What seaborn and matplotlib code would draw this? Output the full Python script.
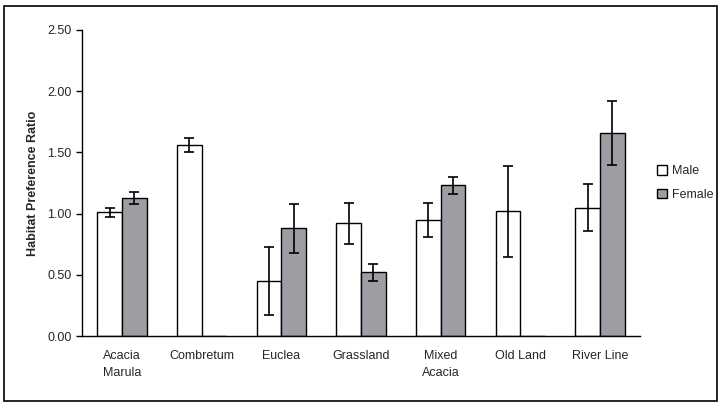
import numpy as np
import pandas as pd
import matplotlib
matplotlib.use('Agg')
import matplotlib.pyplot as plt
import seaborn as sns
from matplotlib.patches import Rectangle

habitats = ['Acacia\nMarula', 'Combretum', 'Euclea', 'Grassland',
            'Mixed\nAcacia', 'Old Land', 'River Line']
male = [1.01, 1.56, 0.45, 0.92, 0.95, 1.02, 1.05]
male_err = [0.04, 0.06, 0.28, 0.17, 0.14, 0.37, 0.19]
female = [1.13, 0.0, 0.88, 0.52, 1.23, 0.0, 1.66]
female_err = [0.05, 0.0, 0.20, 0.07, 0.07, 0.0, 0.26]
y_ticks = [0.0, 0.5, 1.0, 1.5, 2.0, 2.5]

df = pd.DataFrame({
    'habitat': habitats * 2,
    'ratio': male + female,
    'err': male_err + female_err,
    'sex': ['Male'] * len(habitats) + ['Female'] * len(habitats),
})

sns.set_style('white')
plt.rcParams['font.family'] = ['Liberation Sans', 'DejaVu Sans']

fig = plt.figure(figsize=(7.22, 4.04), dpi=100)
ax = fig.add_axes([0.1136, 0.168, 0.7725, 0.758])

sns.barplot(data=df, x='habitat', y='ratio', hue='sex', order=habitats,
            hue_order=['Male', 'Female'], palette=['white', '#9c9ca4'],
            edgecolor='black', linewidth=1.0, width=0.62, errorbar=None,
            ax=ax)

# error bars drawn on top of each bar
for cont, errs in zip(ax.containers, [male_err, female_err]):
    for bar, e in zip(cont, errs):
        if e <= 0:
            continue
        xc = bar.get_x() + bar.get_width() / 2
        ax.errorbar(xc, bar.get_height(), yerr=e, fmt='none', ecolor='black',
                    elinewidth=1.2, capsize=3.5, capthick=1.2, zorder=5)

ax.set_xlim(-0.5, len(habitats) - 0.5)
ax.set_ylim(0, 2.5)
ax.set_yticks(y_ticks)
ax.set_yticklabels([f'{v:.2f}' for v in y_ticks], fontsize=9)
ax.set_xticks(range(len(habitats)))
ax.set_xticklabels(habitats, fontsize=9, linespacing=1.6)
ax.set_xticks(np.arange(-0.5, len(habitats)), minor=True)
ax.tick_params(axis='x', which='major', length=0, pad=10)
ax.tick_params(axis='x', which='minor', direction='out', length=4, width=1, color='black')
ax.tick_params(axis='y', direction='out', length=4, width=1, color='black', left=True)
ax.set_xlabel('')
ax.set_ylabel('Habitat Preference Ratio', fontsize=9, fontweight='bold', labelpad=6)

for s in ['top', 'right']:
    ax.spines[s].set_visible(False)
for s in ['left', 'bottom']:
    ax.spines[s].set_color('black')
    ax.spines[s].set_linewidth(1.0)

leg = ax.legend(loc='center left', bbox_to_anchor=(1.01, 0.50), frameon=False,
                fontsize=9, handlelength=0.8, handleheight=0.8,
                handletextpad=0.4, labelspacing=0.9)

# outer chart border
fig.patches.append(Rectangle((0.005, 0.008), 0.988, 0.978, transform=fig.transFigure,
                             fill=False, edgecolor='black', linewidth=1.2))

fig.savefig('out.png', dpi=100)
